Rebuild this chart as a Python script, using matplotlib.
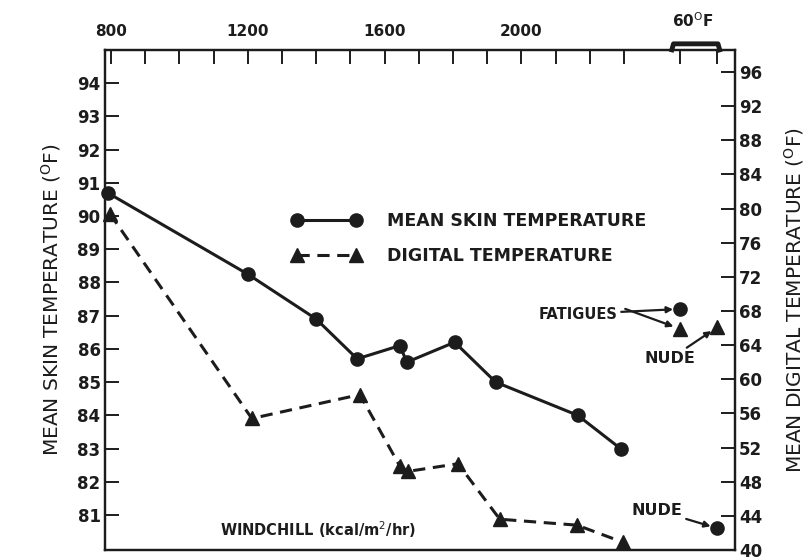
import numpy as np
import matplotlib
matplotlib.use("Agg")
import matplotlib.pyplot as plt
import matplotlib.transforms as mtransforms

# windchill (kcal/m2/hr) and mean skin temperature (F), left axis
skin_x = [790, 1200, 1400, 1520, 1645, 1665, 1805, 1925, 2165, 2290]
skin_y = [90.7, 88.25, 86.9, 85.7, 86.1, 85.6, 86.2, 85.0, 84.0, 83.0]

# digital temperature (F), right axis
dig_x = [797, 1212, 1528, 1645, 1668, 1815, 1937, 2163, 2297]
dig_y = [79.4, 55.4, 58.2, 49.8, 49.2, 50.1, 43.6, 42.9, 40.9]

# 60 F exposures (no windchill value, drawn at the right end)
f60_x = [2464, 2573]
f60_skin = [87.2, 80.6]
f60_dig = [65.9, 66.1]

top_ticks = np.arange(800, 2400, 100)
top_labels = ["800", "1200", "1600", "2000"]
left_ticks = np.arange(81, 95)
right_ticks = np.arange(40, 100, 4)

ink = "#1c1c1c"
plt.rcParams["font.family"] = ["DejaVu Sans"]

fig = plt.figure(figsize=(8.06, 5.60), dpi=100)
ax = fig.add_axes([0.130, 0.018, 0.782, 0.893])
ax2 = ax.twinx()

ax.set_xlim(782, 2625)
ax.set_ylim(79.95, 95.0)
ax2.set_ylim(40, 98.6)

for a in (ax, ax2):
    for s in a.spines.values():
        s.set_linewidth(1.6)
        s.set_color(ink)

# series
l1, = ax.plot(skin_x, skin_y, "-", color=ink, lw=2.2, marker="o", ms=9.5,
              clip_on=False, zorder=3)
l2, = ax2.plot(dig_x, dig_y, "--", color=ink, lw=2.2, marker="^", ms=10,
               dashes=(4, 2.5), clip_on=False, zorder=3)
ax.plot(f60_x, f60_skin, "o", color=ink, ms=9.5, clip_on=False, zorder=3)
ax2.plot(f60_x, f60_dig, "^", color=ink, ms=10, clip_on=False, zorder=3)

# ticks
tick_pos = list(top_ticks) + f60_x
ax.set_xticks(tick_pos)
lab = []
for t in tick_pos:
    lab.append(str(t) if str(t) in top_labels else "")
ax.set_xticklabels(lab)
ax.tick_params(axis="x", which="both", top=True, bottom=False, labeltop=True,
               labelbottom=False, direction="in", length=10, width=1.4,
               color=ink, pad=8, labelsize=11)
ax2.tick_params(axis="x", which="both", top=False, bottom=False,
                labeltop=False, labelbottom=False)
ax.set_yticks(left_ticks)
ax.tick_params(axis="y", direction="in", length=10, width=1.4, color=ink,
               labelsize=12, pad=3)
ax2.set_yticks(right_ticks)
ax2.tick_params(axis="y", direction="in", length=10, width=1.4, color=ink,
                labelsize=12, pad=3)
for t in ax.get_xticklabels() + ax.get_yticklabels() + ax2.get_yticklabels():
    t.set_fontweight("bold")
    t.set_color(ink)

# 60 F bracket on top
tr = mtransforms.blended_transform_factory(ax.transData, ax.transAxes)
ax.plot([2440, 2445, 2575, 2580], [1.0, 1.012, 1.012, 1.0], color=ink,
        lw=3.5, transform=tr, clip_on=False)
ax.text(2500, 1.04, "60$^{\\rm O}$F", transform=tr, ha="center", va="bottom",
        fontsize=11, fontweight="bold", color=ink)

ax.set_ylabel("MEAN SKIN TEMPERATURE ($^{\\rm O}$F)", fontsize=14.5,
              color=ink, labelpad=10)
ax2.set_ylabel("MEAN DIGITAL TEMPERATURE ($^{\\rm O}$F)", fontsize=14.5,
               color=ink, rotation=90, labelpad=14)

ax.text(0.183, 0.04, "WINDCHILL (kcal/m$^2$/hr)", transform=ax.transAxes,
        fontsize=10.5, fontweight="bold", color=ink, va="center")

leg = ax.legend([l1, l2], ["MEAN SKIN TEMPERATURE", "DIGITAL TEMPERATURE"],
                numpoints=2, frameon=False, loc="upper left",
                bbox_to_anchor=(0.297, 0.675), borderpad=0, borderaxespad=0,
                handlelength=4.0, handletextpad=1.5, labelspacing=0.95,
                prop={"size": 12.5, "weight": "bold"})
for t in leg.get_texts():
    t.set_color(ink)

# annotations
akw = dict(arrowstyle="-|>", color=ink, lw=1.6, mutation_scale=9,
           shrinkA=1, shrinkB=5)
ax.annotate("FATIGUES", xy=(f60_x[0], f60_skin[0]), xytext=(2280, 87.05),
            ha="right", va="center", fontsize=10.5, fontweight="bold",
            color=ink, arrowprops=akw)
ax2.annotate("", xy=(f60_x[0], f60_dig[0]), xytext=(2300, 68.3),
             arrowprops=akw)
ax2.annotate("NUDE", xy=(f60_x[1], f60_dig[1]), xytext=(2510, 62.4),
             ha="right", va="center", fontsize=11.5, fontweight="bold",
             color=ink, arrowprops=akw)
ax.annotate("NUDE", xy=(f60_x[1], f60_skin[1]), xytext=(2470, 81.15),
            ha="right", va="center", fontsize=11.5, fontweight="bold",
            color=ink, arrowprops=akw)

fig.savefig("out.png", dpi=100, facecolor="white")
